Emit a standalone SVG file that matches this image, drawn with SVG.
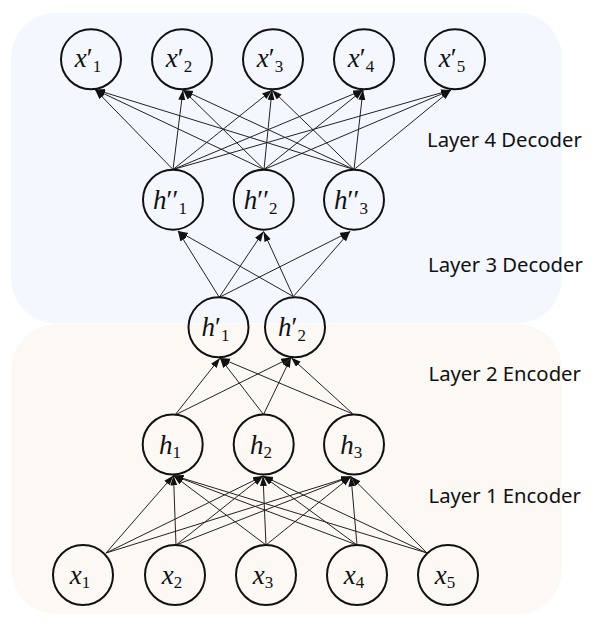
<svg xmlns="http://www.w3.org/2000/svg" width="606" height="627" viewBox="0 0 606 627">
<defs>
<marker id="arr" markerUnits="userSpaceOnUse" markerWidth="10" markerHeight="8" refX="10" refY="3.5" orient="auto">
<path d="M0,0 L10,3.5 L0,7 z" fill="#111"/>
</marker>
<style>
.c{fill:none;stroke:#111;stroke-width:2}
.e{stroke:#222;stroke-width:1;fill:none;marker-end:url(#arr)}
.v{font-family:"Liberation Serif","DejaVu Serif",serif;font-size:27px;fill:#111;text-anchor:middle}
.v .i{font-style:italic}
.v .s{font-size:17px}
.lab{font-family:"Noto Sans","Liberation Sans",sans-serif;font-size:20.3px;fill:#111}
</style>
</defs>
<rect width="606" height="627" fill="#fff"/>
<g id="panels">
<rect x="11" y="12.7" width="551" height="310.6" rx="45" ry="45" fill="#F4F7FE"/>
<rect x="11.5" y="324" width="550.5" height="290.3" rx="45" ry="45" fill="#FCF8F4"/>
</g>
<g id="connectors">
<!-- Layer 4 -->
<line class="e" x1="173" y1="169.5" x2="95" y2="89.5"/>
<line class="e" x1="173" y1="169.5" x2="183" y2="90"/>
<line class="e" x1="173" y1="169.5" x2="272" y2="90"/>
<line class="e" x1="173" y1="169.5" x2="363" y2="90"/>
<line class="e" x1="173" y1="169.5" x2="451" y2="90"/>
<line class="e" x1="264" y1="169.5" x2="95" y2="89.5"/>
<line class="e" x1="264" y1="169.5" x2="183" y2="90"/>
<line class="e" x1="264" y1="169.5" x2="272" y2="90"/>
<line class="e" x1="264" y1="169.5" x2="363" y2="90"/>
<line class="e" x1="264" y1="169.5" x2="451" y2="90"/>
<line class="e" x1="354" y1="169.5" x2="95" y2="89.5"/>
<line class="e" x1="354" y1="169.5" x2="183" y2="90"/>
<line class="e" x1="354" y1="169.5" x2="272" y2="90"/>
<line class="e" x1="354" y1="169.5" x2="363" y2="90"/>
<line class="e" x1="354" y1="169.5" x2="451" y2="90"/>
<!-- Layer 3 -->
<line class="e" x1="219.3" y1="297.3" x2="178" y2="231"/>
<line class="e" x1="219.3" y1="297.3" x2="263.5" y2="231.5"/>
<line class="e" x1="219.3" y1="297.3" x2="350" y2="231.5"/>
<line class="e" x1="293.3" y1="296.5" x2="178" y2="231"/>
<line class="e" x1="293.3" y1="296.5" x2="263.5" y2="231.5"/>
<line class="e" x1="293.3" y1="296.5" x2="350" y2="231.5"/>
<!-- Layer 2 -->
<line class="e" x1="175" y1="415" x2="220" y2="358"/>
<line class="e" x1="175" y1="415" x2="291" y2="357.5"/>
<line class="e" x1="263.5" y1="414.5" x2="220" y2="358"/>
<line class="e" x1="263.5" y1="414.5" x2="291" y2="357.5"/>
<line class="e" x1="353" y1="414" x2="220" y2="358"/>
<line class="e" x1="353" y1="414" x2="291" y2="357.5"/>
<!-- Layer 1 -->
<line class="e" x1="106" y1="553" x2="173.5" y2="475.5"/>
<line class="e" x1="106" y1="553" x2="263" y2="476"/>
<line class="e" x1="106" y1="553" x2="351" y2="476.5"/>
<line class="e" x1="176" y1="545" x2="173.5" y2="475.5"/>
<line class="e" x1="176" y1="545" x2="263" y2="476"/>
<line class="e" x1="176" y1="545" x2="351" y2="476.5"/>
<line class="e" x1="266" y1="545" x2="173.5" y2="475.5"/>
<line class="e" x1="266" y1="545" x2="263" y2="476"/>
<line class="e" x1="266" y1="545" x2="351" y2="476.5"/>
<line class="e" x1="357" y1="545" x2="173.5" y2="475.5"/>
<line class="e" x1="357" y1="545" x2="263" y2="476"/>
<line class="e" x1="357" y1="545" x2="351" y2="476.5"/>
<line class="e" x1="427" y1="553" x2="173.5" y2="475.5"/>
<line class="e" x1="427" y1="553" x2="263" y2="476"/>
<line class="e" x1="427" y1="553" x2="351" y2="476.5"/>
</g>
<g id="xp1"><circle class="c" cx="91" cy="59.3" r="30"/><text class="v" x="88" y="67"><tspan class="i">x</tspan>′<tspan class="s" dy="5">1</tspan></text></g>
<g id="xp2"><circle class="c" cx="182" cy="59.3" r="30"/><text class="v" x="179" y="67"><tspan class="i">x</tspan>′<tspan class="s" dy="5">2</tspan></text></g>
<g id="xp3"><circle class="c" cx="273" cy="59.3" r="30"/><text class="v" x="270" y="67"><tspan class="i">x</tspan>′<tspan class="s" dy="5">3</tspan></text></g>
<g id="xp4"><circle class="c" cx="364" cy="59.3" r="30"/><text class="v" x="361" y="67"><tspan class="i">x</tspan>′<tspan class="s" dy="5">4</tspan></text></g>
<g id="xp5"><circle class="c" cx="455" cy="59.3" r="30"/><text class="v" x="452" y="67"><tspan class="i">x</tspan>′<tspan class="s" dy="5">5</tspan></text></g>
<g id="hpp1"><circle class="c" cx="173" cy="199.7" r="30"/><text class="v" x="170" y="208.5"><tspan class="i">h</tspan>′′<tspan class="s" dy="5">1</tspan></text></g>
<g id="hpp2"><circle class="c" cx="263.7" cy="199.7" r="30"/><text class="v" x="260.7" y="208.5"><tspan class="i">h</tspan>′′<tspan class="s" dy="5">2</tspan></text></g>
<g id="hpp3"><circle class="c" cx="354" cy="199.7" r="30"/><text class="v" x="351" y="208.5"><tspan class="i">h</tspan>′′<tspan class="s" dy="5">3</tspan></text></g>
<g id="hp1"><circle class="c" cx="218.5" cy="327.3" r="30"/><text class="v" x="215.5" y="336"><tspan class="i">h</tspan>′<tspan class="s" dy="5">1</tspan></text></g>
<g id="hp2"><circle class="c" cx="295" cy="327.3" r="30"/><text class="v" x="292" y="336"><tspan class="i">h</tspan>′<tspan class="s" dy="5">2</tspan></text></g>
<g id="h1"><circle class="c" cx="172.7" cy="444.5" r="30"/><text class="v" x="170" y="453.5"><tspan class="i">h</tspan><tspan class="s" dy="4">1</tspan></text></g>
<g id="h2"><circle class="c" cx="263.7" cy="444.5" r="30"/><text class="v" x="261" y="453.5"><tspan class="i">h</tspan><tspan class="s" dy="4">2</tspan></text></g>
<g id="h3"><circle class="c" cx="354" cy="444.5" r="30"/><text class="v" x="351.3" y="453.5"><tspan class="i">h</tspan><tspan class="s" dy="4">3</tspan></text></g>
<g id="x1"><circle class="c" cx="83" cy="575" r="30"/><text class="v" x="80" y="584"><tspan class="i">x</tspan><tspan class="s" dy="4">1</tspan></text></g>
<g id="x2"><circle class="c" cx="175" cy="575" r="30"/><text class="v" x="172" y="584"><tspan class="i">x</tspan><tspan class="s" dy="4">2</tspan></text></g>
<g id="x3"><circle class="c" cx="266" cy="575" r="30"/><text class="v" x="263" y="584"><tspan class="i">x</tspan><tspan class="s" dy="4">3</tspan></text></g>
<g id="x4"><circle class="c" cx="357" cy="575" r="30"/><text class="v" x="354" y="584"><tspan class="i">x</tspan><tspan class="s" dy="4">4</tspan></text></g>
<g id="x5"><circle class="c" cx="448" cy="575" r="30"/><text class="v" x="445" y="584"><tspan class="i">x</tspan><tspan class="s" dy="4">5</tspan></text></g>
<g id="labels">
<text class="lab" x="427" y="146.5">Layer 4 Decoder</text>
<text class="lab" x="428" y="272">Layer 3 Decoder</text>
<text class="lab" x="428.5" y="380.5">Layer 2 Encoder</text>
<text class="lab" x="428.5" y="503">Layer 1 Encoder</text>
</g>
</svg>
